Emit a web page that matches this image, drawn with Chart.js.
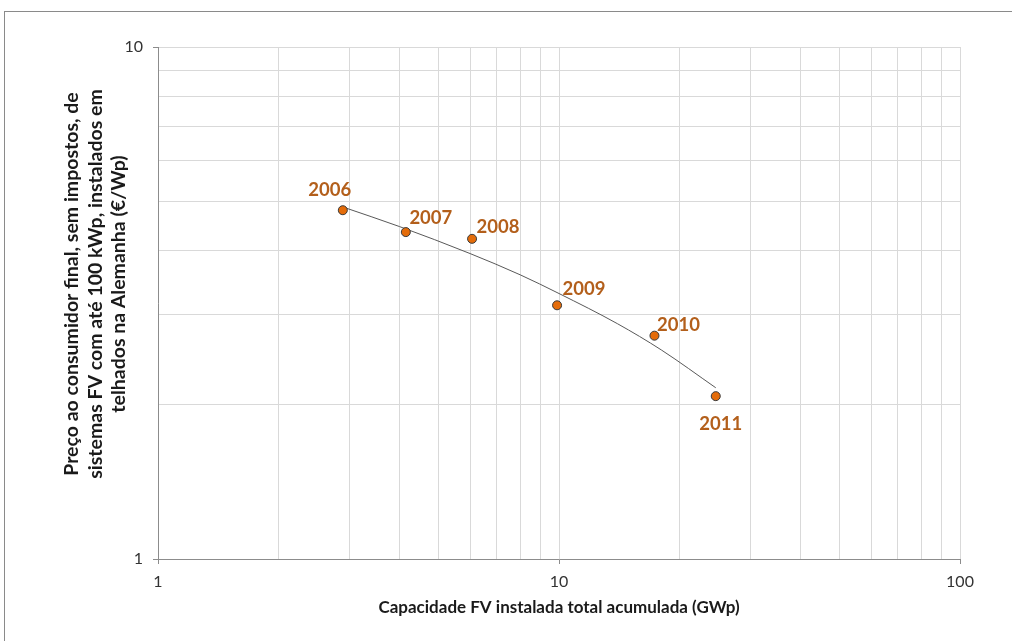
<!DOCTYPE html>
<html>
<head>
<meta charset="utf-8">
<script src="https://cdn.jsdelivr.net/npm/chart.js@4.4.1/dist/chart.umd.min.js"></script>
<style>
  html, body { margin: 0; padding: 0; background: #fff; }
  #wrap { width: 1012px; height: 641px; position: relative; }
</style>
</head>
<body>
<div id="wrap"><canvas id="chart" width="1012" height="641"></canvas></div>
<script>
// Cumulative installed PV (GWp) and end-customer price (€/Wp), per year
var years = ['2006', '2007', '2008', '2009', '2010', '2011'];
var capacity = [2.89, 4.15, 6.07, 9.89, 17.3, 24.6];
var price = [4.80, 4.35, 4.22, 3.13, 2.73, 2.08];

// Logarithmic trend curve through the points
var trendCapacity = [2.89, 4, 6, 8, 10, 14, 18, 24.6];
var trendPrice = [4.87, 4.46, 3.95, 3.59, 3.30, 2.88, 2.56, 2.16];

// Grid positions on both log axes; only the decades get a label
var xGrid = [1, 2, 3, 4, 5, 6, 7, 8, 9, 10, 20, 30, 40, 50, 60, 70, 80, 90, 100];
var yGrid = [1, 2, 3, 4, 5, 6, 7, 8, 9, 10];
var xTickLabels = [1, 10, 100];
var yTickLabels = [1, 10];

var yTitleLines = [
    'Preço ao consumidor final, sem impostos, de',
    'sistemas FV com até 100 kWp, instalados em',
    'telhados na Alemanha (€/Wp)'
];
var xTitle = 'Capacidade FV instalada total acumulada (GWp)';

// Year label placement around each marker (dx, dy in px)
var labelOffsets = [[-13, -20], [25, -14], [26, -12], [27, -16], [24, -11], [5, 28]];

var FONT = 'Lato, "Open Sans", sans-serif';
var gridColor = '#d9d9d9';
var axisColor = '#8c8c8c';

function isDecade(v) {
    var l = Math.log10(v);
    return Math.abs(l - Math.round(l)) < 1e-9;
}

function inList(list, v) {
    return list.some(function(t) { return Math.abs(t - v) < 1e-9; });
}

var points = capacity.map(function(c, i) { return {x: c, y: price[i]}; });
var trend = trendCapacity.map(function(c, i) { return {x: c, y: trendPrice[i]}; });

// White background plus the thin frame around the whole chart
var framePlugin = {
    id: 'frame',
    beforeDraw: function(chart) {
        var ctx = chart.ctx;
        ctx.save();
        ctx.fillStyle = '#fff';
        ctx.fillRect(0, 0, chart.width, chart.height);
        ctx.strokeStyle = '#8a8a8a';
        ctx.lineWidth = 1;
        ctx.strokeRect(4.5, 11.5, chart.width + 20, chart.height + 20);
        ctx.restore();
    }
};

// Three-line rotated title for the price axis
var yTitlePlugin = {
    id: 'yTitle',
    afterDraw: function(chart) {
        var ctx = chart.ctx;
        ctx.save();
        ctx.translate(72, 284);
        ctx.rotate(-Math.PI / 2);
        ctx.font = 'bold 19.5px ' + FONT;
        ctx.fillStyle = '#1a1a1a';
        ctx.textAlign = 'center';
        ctx.textBaseline = 'middle';
        yTitleLines.forEach(function(line, i) {
            ctx.fillText(line, 0, i * 23.5);
        });
        ctx.restore();
    }
};

// Year labels next to the markers
var yearLabelPlugin = {
    id: 'yearLabels',
    afterDatasetsDraw: function(chart) {
        var meta = chart.getDatasetMeta(0);
        var ctx = chart.ctx;
        ctx.save();
        ctx.font = 'bold 18.5px ' + FONT;
        ctx.fillStyle = '#b35f1b';
        ctx.textAlign = 'center';
        ctx.textBaseline = 'middle';
        meta.data.forEach(function(el, i) {
            ctx.fillText(years[i], el.x + labelOffsets[i][0], el.y + labelOffsets[i][1]);
        });
        ctx.restore();
    }
};

function gridOptions() {
    return {
        color: gridColor,
        tickLength: 5,
        tickColor: function(ctx) {
            return ctx.tick && isDecade(ctx.tick.value) ? axisColor : 'rgba(0,0,0,0)';
        }
    };
}

var chart = new Chart(document.getElementById('chart').getContext('2d'), {
    type: 'scatter',
    data: {
        datasets: [{
            label: 'Preço',
            data: points,
            backgroundColor: '#e46c0a',
            borderColor: '#3a3a3a',
            borderWidth: 1,
            pointRadius: 4.5,
            order: 1
        }, {
            label: 'Tendência',
            type: 'line',
            data: trend,
            borderColor: '#595959',
            borderWidth: 1,
            pointRadius: 0,
            fill: false,
            cubicInterpolationMode: 'monotone',
            order: 2
        }]
    },
    options: {
        responsive: false,
        animation: false,
        events: [],
        layout: {
            padding: {left: 0, top: 47, right: 52, bottom: 0}
        },
        plugins: {
            legend: {display: false},
            tooltip: {enabled: false}
        },
        scales: {
            x: {
                type: 'logarithmic',
                min: 1,
                max: 100,
                afterFit: function(scale) { scale.height = 82; },
                afterBuildTicks: function(scale) {
                    scale.ticks = xGrid.map(function(v) { return {value: v}; });
                },
                border: {color: axisColor},
                grid: gridOptions(),
                ticks: {
                    autoSkip: false,
                    maxRotation: 0,
                    padding: 8,
                    color: '#333333',
                    font: {family: FONT, size: 16},
                    callback: function(v) { return inList(xTickLabels, v) ? String(v) : ''; }
                },
                title: {
                    display: true,
                    text: xTitle,
                    color: '#1a1a1a',
                    font: {family: FONT, size: 17, weight: 'bold'},
                    padding: {top: 0, bottom: 23}
                }
            },
            y: {
                type: 'logarithmic',
                min: 1,
                max: 10,
                afterFit: function(scale) { scale.width = 158; },
                afterBuildTicks: function(scale) {
                    scale.ticks = yGrid.map(function(v) { return {value: v}; });
                },
                border: {color: axisColor},
                grid: gridOptions(),
                ticks: {
                    autoSkip: false,
                    padding: 10,
                    color: '#333333',
                    font: {family: FONT, size: 16},
                    callback: function(v) { return inList(yTickLabels, v) ? String(v) : ''; }
                }
            }
        }
    },
    plugins: [framePlugin, yTitlePlugin, yearLabelPlugin]
});
</script>
</body>
</html>
